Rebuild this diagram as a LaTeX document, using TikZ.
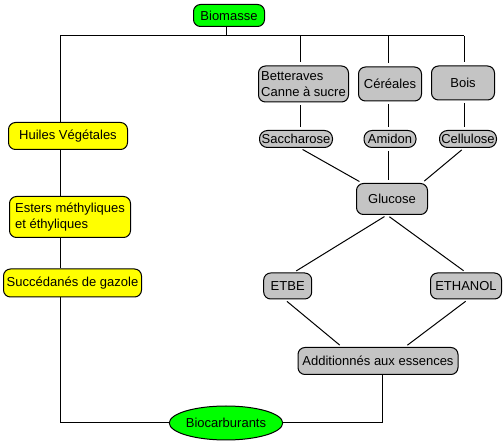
\documentclass[tikz,border=0pt]{standalone}
\usepackage{fontspec}
\setmainfont{Liberation Sans}
\usetikzlibrary{shapes.geometric}
\definecolor{boxgray}{RGB}{196,196,196}
\definecolor{boxgreen}{RGB}{0,255,0}
\definecolor{boxyellow}{RGB}{255,255,0}
\tikzset{
  base/.style={draw=black, line width=1pt, inner sep=0pt, font=\fontsize{13}{15.5}\selectfont, align=left},
  graybox/.style={base, fill=boxgray, rounded corners=7pt},
  yellowbox/.style={base, fill=boxyellow, rounded corners=7pt},
  greenbox/.style={base, fill=boxgreen, rounded corners=7pt},
  link/.style={draw=black, line width=1pt},
  gap/.style={link, shorten <=3pt, shorten >=3pt},
}
\begin{document}
\begin{tikzpicture}[x=1pt,y=-1pt]
\useasboundingbox (0,0) rectangle (504,443);
% nodes
\node[greenbox, minimum width=71pt, minimum height=22pt] (bio) at (229,15.5) {Biomasse};
\node[yellowbox, minimum width=119pt, minimum height=27pt] (huiles) at (68,136) {Huiles Végétales};
\node[yellowbox, minimum width=121pt, minimum height=41pt] (esters) at (70,217) {Esters méthyliques\\et éthyliques};
\node[yellowbox, minimum width=138pt, minimum height=28pt] (succ) at (72.5,283) {Succédanés de gazole};
\node[graybox, minimum width=90pt, minimum height=36pt] (bett) at (303.5,84) {Betteraves\\Canne à sucre};
\node[graybox, minimum width=63pt, minimum height=34pt] (cer) at (390,84) {Céréales};
\node[graybox, minimum width=63pt, minimum height=34pt] (bois) at (463,83) {Bois};
\node[graybox, rounded corners=8pt, minimum width=73pt, minimum height=17pt] (sacc) at (296,139) {Saccharose};
\node[graybox, rounded corners=8pt, minimum width=52pt, minimum height=17pt] (amidon) at (390,139) {Amidon};
\node[graybox, rounded corners=8pt, minimum width=57pt, minimum height=17pt] (cell) at (468,139) {Cellulose};
\node[graybox, minimum width=71pt, minimum height=31pt] (glucose) at (392,199) {Glucose};
\node[graybox, minimum width=48pt, minimum height=26pt] (etbe) at (287.7,286) {ETBE};
\node[graybox, minimum width=71pt, minimum height=26pt] (ethanol) at (466,286) {ETHANOL};
\node[graybox, minimum width=160pt, minimum height=27pt] (add) at (378,361) {Additionnés aux essences};
\node[base, ellipse, fill=boxgreen, minimum width=109pt, minimum height=34pt] (biocarb) at (226,423) {Biocarburants};
% junction coordinates
\coordinate (j) at (226,36);
\coordinate (tl) at (60,36);
\coordinate (tr) at (464,36);
\coordinate (d1) at (300,36);
\coordinate (d2) at (388,36);
\coordinate (d3) at (464,36);
% connectors
\draw[link] (bio.south -| j) -- (j);
\draw[link] (tl) -- (tr);
\draw[link] (tl) -- (huiles.north -| tl);
\draw[link, shorten >=3pt] (d1) -- (bett.north -| d1);
\draw[link, shorten >=3pt] (d2) -- (cer.north -| d2);
\draw[link, shorten >=3pt] (d3) -- (bois.north -| d3);
\draw[gap] (bett.south -| d1) -- (sacc.north -| d1);
\draw[gap] (cer.south -| d2) -- (amidon.north -| d2);
\draw[gap] (bois.south -| d3) -- (cell.north -| d3);
\draw[gap] (sacc.south -| d1) -- ([xshift=6pt]glucose.north west);
\draw[gap] (amidon.south -| d2) -- (glucose.north -| d2);
\draw[gap] (cell.south -| d3) -- ([xshift=-6pt]glucose.north east);
\draw[gap] ([xshift=-5pt]glucose.south) -- ([xshift=6pt]etbe.north);
\draw[gap] ([xshift=-5pt]glucose.south) -- (ethanol.north);
\draw[gap] ([xshift=-3pt]etbe.south) -- ([xshift=-36pt]add.north);
\draw[gap] ([xshift=2pt]ethanol.south) -- ([xshift=27pt]add.north);
\draw[link] (huiles.south -| tl) -- (esters.north -| tl);
\draw[link] (esters.south -| tl) -- (succ.north -| tl);
\draw[link] (succ.south -| tl) |- (biocarb.west);
\draw[link] ([xshift=4pt]add.south) |- (biocarb.east);
\end{tikzpicture}
\end{document}
